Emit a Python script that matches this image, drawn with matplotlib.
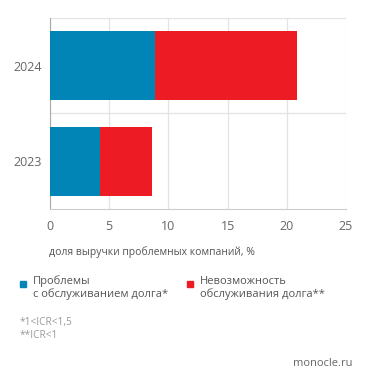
import matplotlib
matplotlib.use("Agg")
import matplotlib.pyplot as plt
from matplotlib.patches import Rectangle

plt.rcParams['font.family'] = ['Open Sans', 'DejaVu Sans']

years = ["2023", "2024"]
problems = [4.2, 8.9]
default = [4.4, 12.0]
x_ticks = [0, 5, 10, 15, 20, 25]
series_names = ["Проблемы\nс обслуживанием долга*", "Невозможность\nобслуживания долга**"]
colors = ["#0085b6", "#ed1c24"]

W, H = 371, 385
fig = plt.figure(figsize=(W/100, H/100), dpi=100)
ax = fig.add_axes([50/W, 1-209/H, 296/W, 191/H])

ypos = list(range(len(years)))
ax.barh(ypos, problems, height=0.72, color=colors[0], zorder=3)
ax.barh(ypos, default, left=problems, height=0.72, color=colors[1], zorder=3)

ax.set_xlim(0, 25)
ax.set_ylim(-0.5, 1.5)
ax.set_xticks(x_ticks)
ax.set_xticklabels([str(t) for t in x_ticks])
ax.set_yticks(ypos)
ax.set_yticklabels(years)
ax.set_yticks([0.5, 1.5], minor=True)
ax.grid(axis='x', color='#e3e3e3', lw=0.9, zorder=0)
ax.grid(axis='y', which='minor', color='#e3e3e3', lw=0.9, zorder=0)
for s in ['top', 'right']:
    ax.spines[s].set_visible(False)
ax.spines['left'].set_color('#aaaaaa')
ax.spines['bottom'].set_color('#cccccc')
ax.tick_params(axis='x', length=0, pad=8, labelsize=9, labelcolor='#666666')
ax.tick_params(axis='y', length=0, pad=6, labelsize=9, labelcolor='#666666')
ax.tick_params(which='minor', length=0)

fig.text(49/W, 1-252/H, "доля выручки проблемных компаний, %", fontsize=7.5,
         color='#555555', va='center', ha='left')

# legend
for i, (name, c) in enumerate(zip(series_names, colors)):
    x0 = [20, 187][i]
    fig.patches.append(Rectangle((x0/W, 1-287/H), 6/W, 6/H, transform=fig.transFigure,
                                 color=c, figure=fig))
    fig.text((x0+13)/W, 1-288/H, name, fontsize=8, color='#555555',
             va='center', ha='left', linespacing=1.15)

fig.text(20/W, 1-329/H, "*1<ICR<1,5\n**ICR<1", fontsize=7.3, color='#9a9a9a',
         va='center', ha='left', linespacing=1.35)
fig.text(352/W, 1-363/H, "monocle.ru", fontsize=8, color='#666666',
         va='center', ha='right')

fig.savefig("out.png", dpi=100)
